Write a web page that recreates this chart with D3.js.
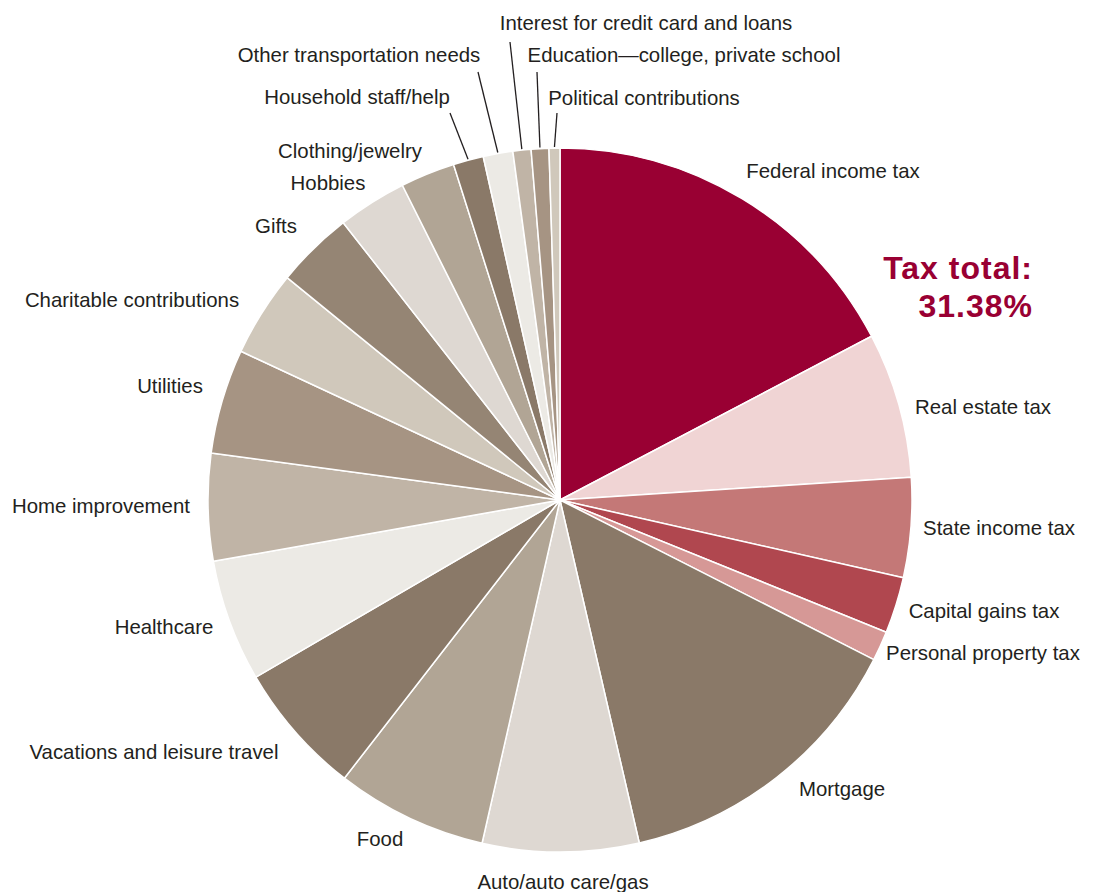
<!DOCTYPE html>
<html><head><meta charset="utf-8">
<script src="https://cdn.jsdelivr.net/npm/d3@7"></script>
<style>
html,body{margin:0;padding:0;background:#fff;}
svg text{font-family:"Liberation Sans Narrow","Liberation Sans",sans-serif;fill:#231f20;}
</style></head>
<body><svg id="chart" width="1096" height="892"></svg>
<script>
const categories = ["Federal income tax","Real estate tax","State income tax","Capital gains tax","Personal property tax","Mortgage","Auto/auto care/gas","Food","Vacations and leisure travel","Healthcare","Home improvement","Utilities","Charitable contributions","Gifts","Hobbies","Clothing/jewelry","Household staff/help","Other transportation needs","Interest for credit card and loans","Education\u2014college, private school","Political contributions"];
const values = [17.3,6.67,4.58,2.58,1.36,13.9,7.17,6.94,6.11,5.61,4.92,4.81,3.94,3.56,3.17,2.5,1.39,1.36,0.83,0.81,0.5];
const colors = ["#990033","#f0d4d4","#c47877","#b0474f","#d69896","#8a7968","#ded8d2","#b1a595","#8a7968","#eceae5","#c0b4a6","#a69483","#d0c8bb","#958574","#ded8d2","#b1a595","#8a7968","#eceae5","#c0b4a6","#a69483","#d0c8bb"];
const taxTotalLabel = ["Tax total:","31.38%"];

// label layout: [x, y(baseline), anchor, leader start x, leader start y]
const labelLayout = [
  [833,178,"middle"],[983,414,"middle"],[999,535,"middle"],[984,618,"middle"],[983,660,"middle"],
  [842,796,"middle"],[563,889,"middle"],[380,846,"middle"],[154,759,"middle"],[164,634,"middle"],
  [101,513,"middle"],[170,393,"middle"],[132,307,"middle"],[276,233,"middle"],[328,190,"middle"],
  [350,158,"middle"],[357,104,"middle",450,113],[359,62,"middle",478,72],[646,30,"middle",510,42],
  [684,62,"middle",537,72],[644,105,"middle",557,113]
];

const cx = 560, cy = 500, R = 352;
const svg = d3.select("#chart");
const g = svg.append("g").attr("transform",`translate(${cx},${cy})`);
const pie = d3.pie().sort(null).value(d=>d);
const arcs = pie(values);
const arc = d3.arc().innerRadius(0).outerRadius(R);
g.selectAll("path.slice").data(arcs).enter().append("path")
  .attr("class","slice").attr("d",arc)
  .attr("fill",(d,i)=>colors[i]).attr("stroke","#fff").attr("stroke-width",1.5).attr("stroke-linejoin","round");

arcs.forEach((d,i)=>{
  const L = labelLayout[i];
  if (L.length > 3) {
    const a = (d.startAngle+d.endAngle)/2;
    const ex = cx + Math.sin(a)*(R+1), ey = cy - Math.cos(a)*(R+1);
    svg.append("line").attr("x1",L[3]).attr("y1",L[4]).attr("x2",ex).attr("y2",ey)
      .attr("stroke","#231f20").attr("stroke-width",1.3);
  }
});

svg.selectAll("text.lbl").data(categories).enter().append("text")
  .attr("class","lbl").attr("x",(d,i)=>labelLayout[i][0]).attr("y",(d,i)=>labelLayout[i][1])
  .attr("text-anchor",(d,i)=>labelLayout[i][2]).style("font-size","20.4px").text(d=>d);

[[taxTotalLabel[0],279],[taxTotalLabel[1],317]].forEach(([t,y])=>{
  svg.append("text").attr("x",1033).attr("y",y).attr("text-anchor","end")
    .style("font-size","32px").style("font-weight","bold").style("fill","#990033")
    .style("letter-spacing","1px")
    .style("font-family","'Liberation Sans',sans-serif").text(t);
});
</script></body></html>
